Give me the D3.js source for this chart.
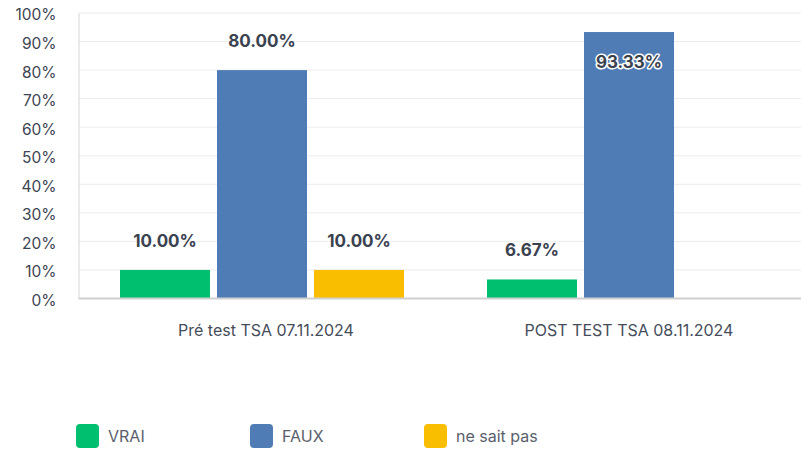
<!DOCTYPE html>
<html>
<head>
<meta charset="utf-8">
<script src="https://cdn.jsdelivr.net/npm/d3@7"></script>
<style>
  body { margin: 0; background: #fff; }
  text { font-family: Inter, "Noto Sans", sans-serif; }
</style>
</head>
<body>
<div id="chart"></div>
<script>
// Data
const groups = ["Pré test TSA 07.11.2024", "POST TEST TSA 08.11.2024"];
const series = ["VRAI", "FAUX", "ne sait pas"];
const colors = ["#00bf6f", "#507cb6", "#f9be00"];
const vrai = [10.00, 6.67];
const faux = [80.00, 93.33];
const neSaitPas = [10.00, 0];
const yTicks = [0, 10, 20, 30, 40, 50, 60, 70, 80, 90, 100];

const width = 801, height = 451;
const margin = { top: 13, left: 78.5, bottom: 152.5 };
const plotW = 734;

const svg = d3.select("#chart").append("svg")
    .attr("width", width)
    .attr("height", height);

const x0 = d3.scaleBand().domain(groups).range([margin.left, margin.left + plotW]).paddingInner(0).paddingOuter(0);
const y = d3.scaleLinear().domain([0, 100]).range([height - margin.bottom, margin.top]);

// Grid
svg.append("g")
    .selectAll("line")
    .data(yTicks.filter(d => d > 0))
    .join("line")
    .attr("x1", margin.left).attr("x2", width)
    .attr("y1", d => y(d)).attr("y2", d => y(d))
    .attr("stroke", "#ececec").attr("stroke-width", 1);

// Y axis
const yAxis = svg.append("g")
    .attr("transform", `translate(${margin.left},0)`)
    .call(d3.axisLeft(y).tickValues(yTicks).tickFormat(d => d + "%").tickSize(0).tickPadding(22));
yAxis.select(".domain").attr("stroke", "#d6d6d6");
yAxis.selectAll("text").attr("font-size", 15.5).attr("fill", "#3d4451").attr("dy", "0.45em");

// Bars
const bw = 90, gap = 7;
const rows = groups.map((g, i) => [vrai[i], faux[i], neSaitPas[i]]);
const x1 = d3.scaleBand().domain(series).range([0, bw * 3 + gap * 2]).paddingInner(gap / (bw + gap)).paddingOuter(0);
const offset = (x0.bandwidth() - (bw * 3 + gap * 2)) / 2;

const gGroups = svg.append("g").selectAll("g")
    .data(groups)
    .join("g")
    .attr("transform", d => `translate(${x0(d) + offset},0)`);

gGroups.each(function(g, gi) {
    const sel = d3.select(this);
    series.forEach((s, si) => {
        const v = rows[gi][si];
        if (v <= 0) return;
        sel.append("rect")
            .attr("x", x1(s))
            .attr("width", x1.bandwidth())
            .attr("y", y(v))
            .attr("height", y(0) - y(v))
            .attr("fill", colors[si]);
        const inside = y(v) < 60;
        const ly = inside ? y(v) + 36 : y(v) - 23;
        const label = sel.append("text")
            .attr("x", x1(s) + x1.bandwidth() / 2)
            .attr("y", ly)
            .attr("text-anchor", "middle")
            .attr("font-size", 17)
            .attr("font-weight", 700)
            .attr("fill", "#3a4250")
            .text(v.toFixed(2) + "%");
        if (inside) {
            label.attr("stroke", "#fff").attr("stroke-width", 3).attr("paint-order", "stroke").attr("stroke-linejoin", "round");
        }
    });
});

// Baseline
svg.append("line")
    .attr("x1", margin.left).attr("x2", width)
    .attr("y1", y(0)).attr("y2", y(0))
    .attr("stroke", "#d0d0d0").attr("stroke-width", 2);

// X labels
svg.append("g").selectAll("text")
    .data(groups)
    .join("text")
    .attr("x", (d, i) => x0(d) + x0.bandwidth() / 2 + (i === 0 ? 4 : 0))
    .attr("y", 336)
    .attr("text-anchor", "middle")
    .attr("font-size", 16)
    .attr("fill", "#464d5a")
    .text(d => d);

// Legend
const legend = svg.append("g").selectAll("g")
    .data(series)
    .join("g")
    .attr("transform", (d, i) => `translate(${76 + i * 174},424)`);
legend.append("rect")
    .attr("width", 23).attr("height", 24).attr("rx", 4)
    .attr("fill", (d, i) => colors[i]);
legend.append("text")
    .attr("x", 32).attr("y", 18)
    .attr("font-size", 16)
    .attr("fill", "#5a606b")
    .text(d => d);
</script>
</body>
</html>
